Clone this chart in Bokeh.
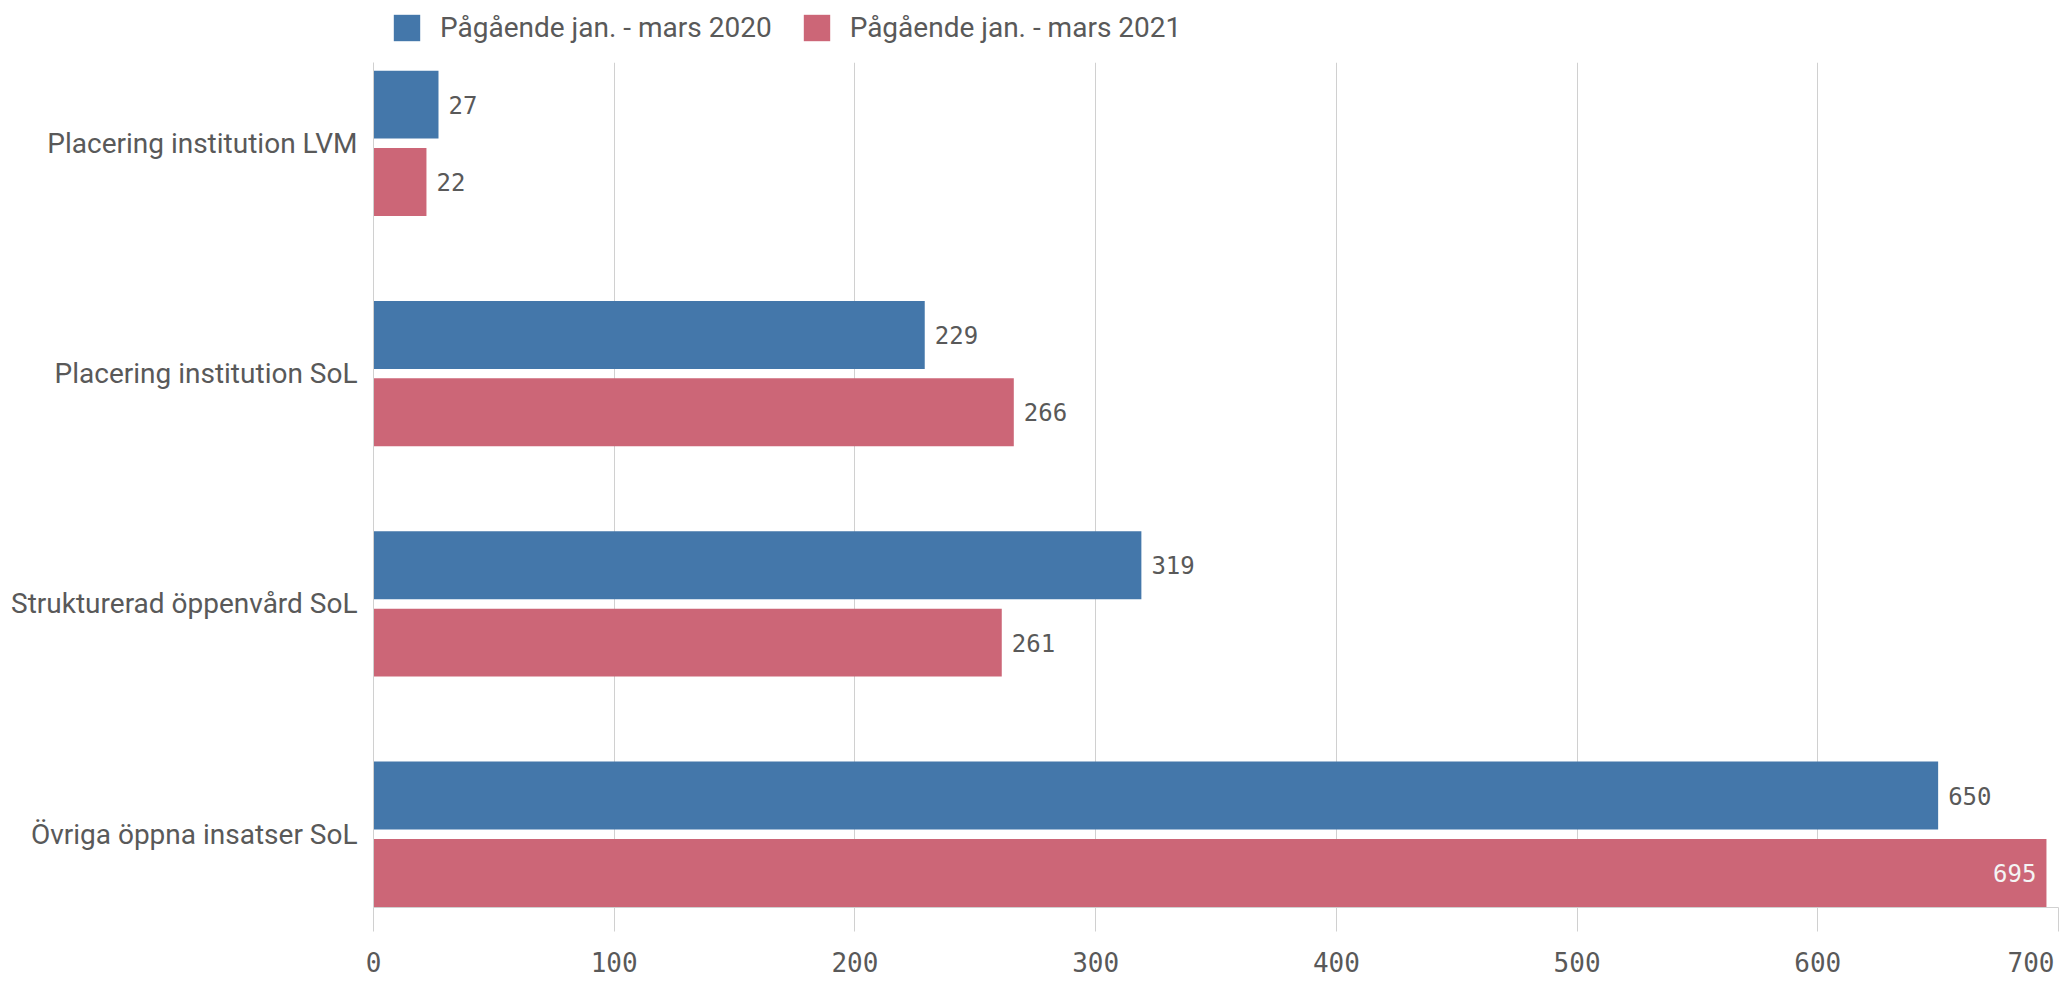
from bokeh.plotting import figure
from bokeh.layouts import column
from bokeh.models import (ColumnDataSource, Range1d, FixedTicker, LabelSet,
                          Legend, LegendItem, LinearAxis)
from bokeh.core.properties import value
from bokeh.embed import file_html
from bokeh.resources import INLINE

# ---- data ----
categories = ["Placering institution LVM", "Placering institution SoL",
              "Strukturerad öppenvård SoL", "Övriga öppna insatser SoL"]
series_names = ["Pågående jan. - mars 2020", "Pågående jan. - mars 2021"]
values_2020 = [27, 229, 319, 650]
values_2021 = [22, 266, 261, 695]
x_ticks = [0, 100, 200, 300, 400, 500, 600, 700]
colors = ["#4477aa", "#cc6677"]

# ---- style / layout ----
SANS = "Roboto"
MONO = "DejaVu Sans Mono"
TXT = "#595959"
GRID = "#d0d0d0"
OFF = 0.168      # half distance between the two bars of a group (category units)
BAR_H = 0.295    # bar thickness (category units)
W = 2060
LEG_H = 62
H = 919
LEFT, RIGHT, TOP, BOTTOM = 373, 2, 0, 74
FRAME_W = W - LEFT - RIGHT
TICK_OUT = 24
TICK_FONT_PX = 26

idx = list(range(len(categories)))

# ---------------- main chart ----------------
p = figure(width=W, height=H, output_backend="svg", toolbar_location=None,
           x_range=Range1d(0, x_ticks[-1]), y_range=Range1d(3.318, -0.351),
           min_border_left=LEFT, min_border_right=RIGHT, min_border_top=TOP,
           min_border_bottom=BOTTOM)
p.outline_line_color = None
p.background_fill_color = "white"
p.border_fill_color = "white"

src = ColumnDataSource(dict(
    y20=[i - OFF for i in idx], y21=[i + OFF for i in idx],
    v20=values_2020, v21=values_2021))

r20 = p.hbar(y="y20", left=0, right="v20", height=BAR_H, source=src,
             fill_color=colors[0], line_color=None)
r21 = p.hbar(y="y21", left=0, right="v21", height=BAR_H, source=src,
             fill_color=colors[1], line_color=None)

# value labels: outside the bar when it fits, inside (white) otherwise
limit = 0.95 * x_ticks[-1]
out_x, out_y, out_t, in_x, in_y, in_t = [], [], [], [], [], []
for vals, sign in ((values_2020, -1), (values_2021, 1)):
    for i, v in zip(idx, vals):
        if v > limit:
            in_x.append(v); in_y.append(i + sign * OFF); in_t.append(str(v))
        else:
            out_x.append(v); out_y.append(i + sign * OFF); out_t.append(str(v))

p.add_layout(LabelSet(x="x", y="y", text="t",
                      source=ColumnDataSource(dict(x=out_x, y=out_y, t=out_t)),
                      x_offset=10, text_align="left", text_baseline="middle",
                      text_font=value(MONO), text_font_size="24px", text_color=TXT))
p.add_layout(LabelSet(x="x", y="y", text="t",
                      source=ColumnDataSource(dict(x=in_x, y=in_y, t=in_t)),
                      x_offset=-10, text_align="right", text_baseline="middle",
                      text_font=value(MONO), text_font_size="24px", text_color="#f4f4f4"))

# y axis (categories)
p.yaxis.ticker = FixedTicker(ticks=idx)
p.yaxis.major_label_overrides = {i: c for i, c in zip(idx, categories)}
p.yaxis.major_label_text_font = SANS
p.yaxis.major_label_text_font_size = "28px"
p.yaxis.major_label_text_color = TXT
p.yaxis.major_tick_line_color = None
p.yaxis.minor_tick_line_color = None
p.yaxis.axis_line_color = GRID
p.yaxis.major_label_standoff = 10

# x axis: line + tick marks only (labels come from the second axis below)
xa = p.xaxis[0]
xa.ticker = FixedTicker(ticks=x_ticks)
xa.major_label_text_color = None
xa.major_label_text_font_size = "1px"
xa.major_label_standoff = 0
xa.major_tick_line_color = GRID
xa.major_tick_out = TICK_OUT
xa.major_tick_in = 0
xa.minor_tick_line_color = None
xa.axis_line_color = GRID

# tick labels; the last one is kept inside the page (right edge at its gridline)
last_shift = (1.5 * 0.602 * TICK_FONT_PX + 4) * x_ticks[-1] / FRAME_W
label_pos = x_ticks[:-1] + [x_ticks[-1] - last_shift]
xl = LinearAxis(ticker=FixedTicker(ticks=label_pos),
                major_label_overrides={label_pos[-1]: str(x_ticks[-1])},
                axis_line_color=None, major_tick_line_color=None,
                minor_tick_line_color=None, major_tick_out=0, major_tick_in=0,
                major_label_standoff=20, major_label_text_font=MONO,
                major_label_text_font_size=f"{TICK_FONT_PX}px",
                major_label_text_color=TXT)
p.add_layout(xl, "below")

p.xgrid.grid_line_color = GRID
p.xgrid.ticker = FixedTicker(ticks=x_ticks)
p.ygrid.grid_line_color = None

# ---------------- legend strip above the chart ----------------
lf = figure(width=W, height=LEG_H, output_backend="svg", toolbar_location=None,
            x_axis_type=None, y_axis_type=None, min_border=0,
            x_range=Range1d(0, 1), y_range=Range1d(0, 1))
lf.outline_line_color = None
lf.grid.grid_line_color = None
# zero-width swatch renderers (only used for the legend glyphs)
lr = [lf.hbar(y=[0.5], left=[0], right=[0], height=0, fill_color=c, line_color=None)
      for c in colors]
legend = Legend(items=[LegendItem(label=n, renderers=[r]) for n, r in zip(series_names, lr)],
                orientation="horizontal", location=(17, 18), padding=0, margin=0,
                spacing=28, label_standoff=17, glyph_width=33, glyph_height=33,
                label_text_font=SANS, label_text_font_size="28px",
                label_text_color=TXT, background_fill_alpha=0, border_line_alpha=0)
lf.add_layout(legend)

open("out.html", "w").write(file_html(column(lf, p, spacing=0), INLINE))
